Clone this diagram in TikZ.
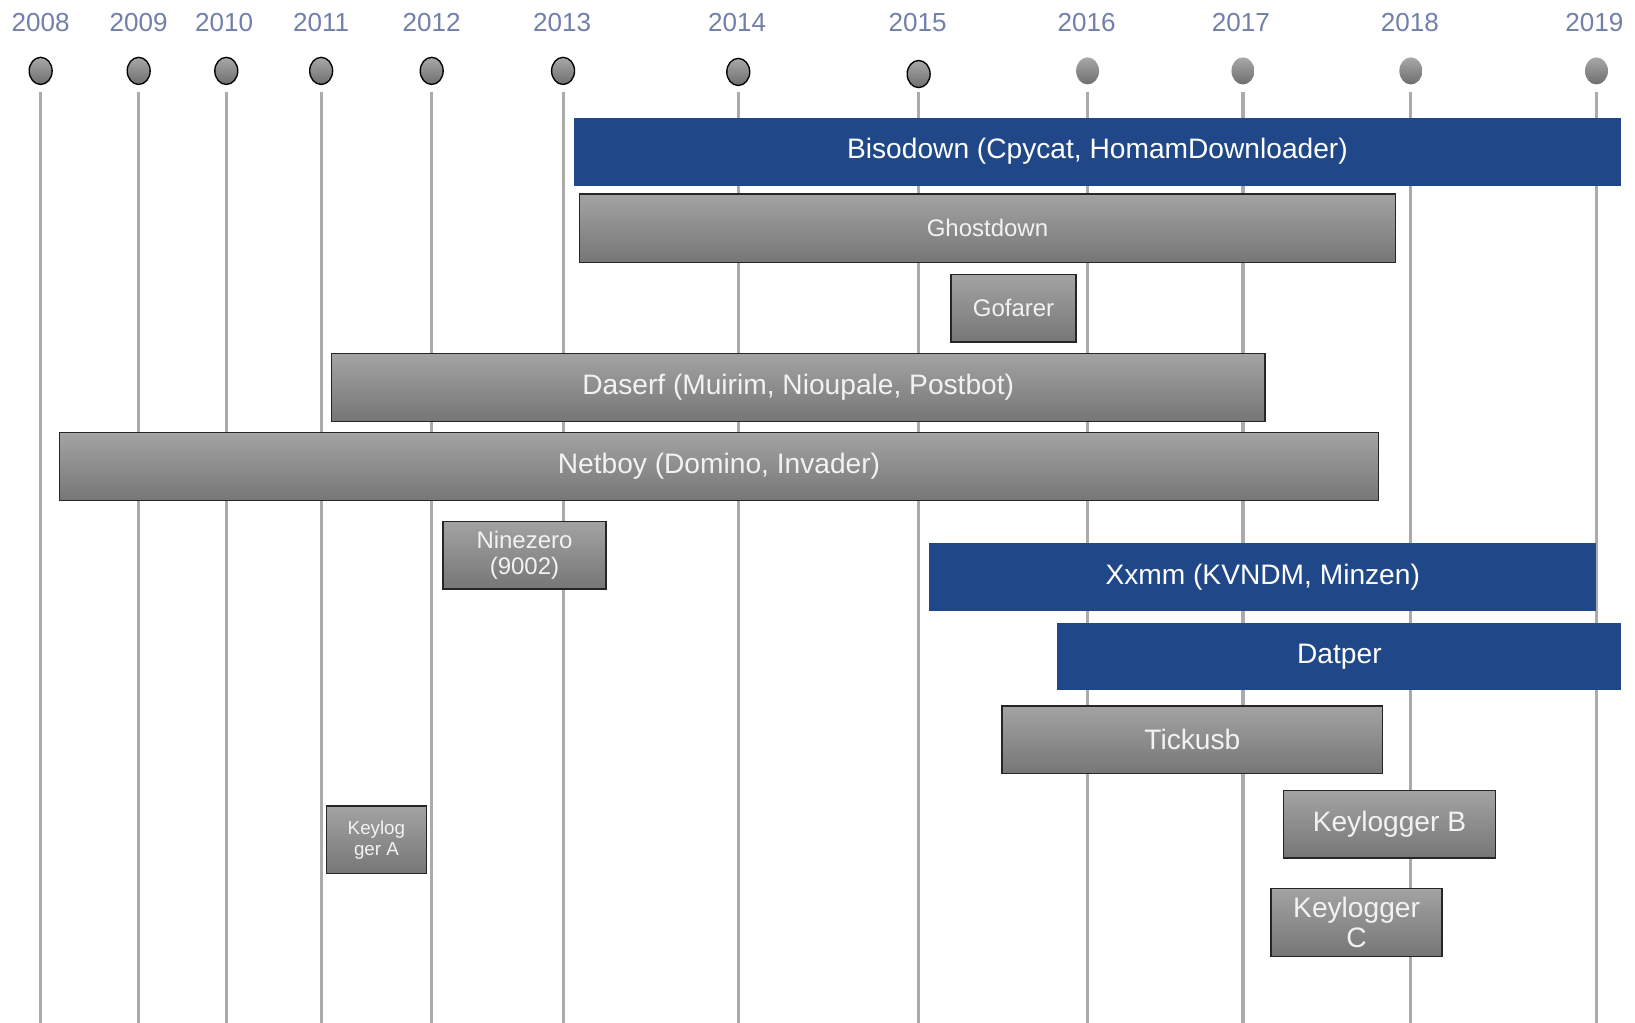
\documentclass[tikz,border=0pt]{standalone}
\usepackage{fontspec}
\setmainfont{Liberation Sans}
\usetikzlibrary{shapes.geometric}
\definecolor{yearblue}{HTML}{7080AA}
\definecolor{barblue}{HTML}{204889}
\definecolor{gtop}{HTML}{A3A3A3}
\definecolor{gbot}{HTML}{767676}
\definecolor{vline}{HTML}{ABABAB}
\definecolor{ctop}{HTML}{A8A8A8}
\definecolor{cbot}{HTML}{6E6E6E}
\tikzset{
  yearlbl/.style={text=yearblue, font=\fontsize{25}{28}\selectfont, inner sep=0pt},
  vl/.style={draw=vline, line width=3pt},
  dotc/.style={ellipse, minimum width=22pt, minimum height=26pt, inner sep=0pt, top color=ctop, bottom color=cbot},
  dotb/.style={dotc, draw=black, line width=1.3pt},
  barbase/.style={rectangle, inner sep=0pt, text=white, align=center, minimum height=65pt},
  gbar/.style={barbase, top color=gtop, bottom color=gbot, draw=black!85, line width=1.3pt, text=white!95!black},
  bbar/.style={barbase, fill=barblue},
  big/.style={font=\fontsize{27}{29}\selectfont},
  small/.style={font=\fontsize{23}{25}\selectfont},
  tiny/.style={font=\fontsize{18}{20}\selectfont},
}
\begin{document}
\begin{tikzpicture}[x=1pt,y=-1pt]
\useasboundingbox (0,0) rectangle (1568,981);
\foreach \n/\x/\dy/\st in {a/39/68/dotb, b/133/68/dotb, c/217/68/dotb, d/308/68/dotb, e/414/68/dotb, f/540/68/dotb, g/708/69/dotb, h/881/71/dotb, i/1043/68/dotc, j/1192/68/dotc, k/1353/68/dotc, l/1531/68/dotc}{
  \coordinate (top\n) at (\x,88);
  \coordinate (bot\n) at (\x,981);
  \draw[vl] (top\n) -- (bot\n);
  \node[\st] (dot\n) at (\x,\dy) {};
}
\node[yearlbl] (ya) at (39,22) {2008};
\node[yearlbl] (yb) at (133,22) {2009};
\node[yearlbl] (yc) at (215,22) {2010};
\node[yearlbl] (yd) at (308,22) {2011};
\node[yearlbl] (ye) at (414,22) {2012};
\node[yearlbl] (yf) at (539,22) {2013};
\node[yearlbl] (yg) at (707,22) {2014};
\node[yearlbl] (yh) at (880,22) {2015};
\node[yearlbl] (yi) at (1042,22) {2016};
\node[yearlbl] (yj) at (1190,22) {2017};
\node[yearlbl] (yk) at (1352,22) {2018};
\node[yearlbl] (yl) at (1529,22) {2019};
% bars
\node[bbar, big, minimum width=1005pt] (bisodown) at (1052.5,145.5) {Bisodown (Cpycat, HomamDownloader)};
\node[gbar, small, minimum width=782pt, minimum height=66pt] (ghostdown) at (947,219) {Ghostdown};
\node[gbar, small, minimum width=120pt] (gofarer) at (972,295.5) {Gofarer};
\node[gbar, big, minimum width=895pt] (daserf) at (765.5,371.5) {Daserf (Muirim, Nioupale, Postbot)};
\node[gbar, big, minimum width=1265pt] (netboy) at (689.5,447.5) {Netboy (Domino, Invader)};
\node[gbar, small, minimum width=156pt] (ninezero) at (503,532.5) {Ninezero\\(9002)};
\node[bbar, big, minimum width=640pt] (xxmm) at (1211,553.5) {Xxmm (KVNDM, Minzen)};
\node[bbar, big, minimum width=541pt] (datper) at (1284.5,629.5) {Datper};
\node[gbar, big, minimum width=365pt] (tickusb) at (1143.5,709.5) {Tickusb};
\node[gbar, big, minimum width=203pt] (keyb) at (1332.5,790.5) {Keylogger B};
\node[gbar, tiny, minimum width=96pt] (keya) at (361,805.5) {Keylog\\ger A};
\node[gbar, big, minimum width=164pt] (keyc) at (1301,884.5) {Keylogger\\C};
\end{tikzpicture}
\end{document}
